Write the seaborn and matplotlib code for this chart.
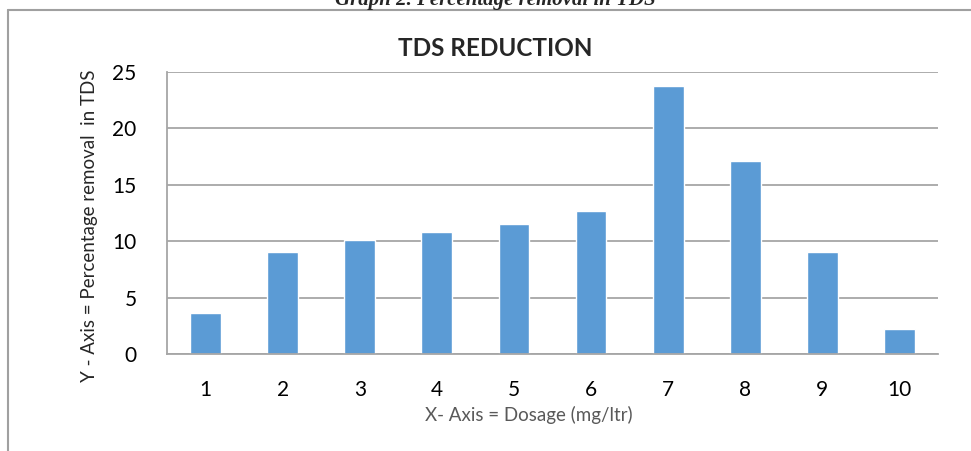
import matplotlib
matplotlib.use("Agg")
import matplotlib.pyplot as plt
import seaborn as sns
from matplotlib.lines import Line2D

# dane
dosage = ['1', '2', '3', '4', '5', '6', '7', '8', '9', '10']
removal = [3.64, 9.0, 10.1, 10.8, 11.5, 12.7, 23.75, 17.15, 9.0, 2.25]
y_ticks = [0, 5, 10, 15, 20, 25]

sns.set_style('white')
plt.rcParams['font.family'] = ['Lato', 'DejaVu Sans']

fig = plt.figure(figsize=(9.71, 4.51), dpi=100)
ax = fig.add_axes([167/971, 1-354/451, (938-167)/971, (354-72)/451])

sns.barplot(x=dosage, y=removal, color='#5B9BD5', width=0.4, saturation=1, ax=ax)

ax.set_ylim(0, 25)
ax.set_yticks(y_ticks)
ax.yaxis.grid(True, color='#A6A6A6', linewidth=1.3)
ax.set_axisbelow(True)
for s in ['top', 'right']:
    ax.spines[s].set_visible(False)
for s in ['left', 'bottom']:
    ax.spines[s].set_color('#A6A6A6')
    ax.spines[s].set_linewidth(1.3)
ax.tick_params(axis='both', length=0, labelsize=15, labelcolor='black')
ax.tick_params(axis='y', pad=22)
ax.tick_params(axis='x', pad=19)
ax.set_xlabel('')
ax.set_ylabel('')

# tytuły i opisy osi
fig.text(495/971, 1-48/451, 'TDS REDUCTION', ha='center', va='center',
         fontsize=17.5, fontweight='bold')
fig.text(529/971, 1-415/451, 'X- Axis = Dosage (mg/ltr)', ha='center', va='center',
         fontsize=13.5, color='#595959')
fig.text(89/971, 1-226/451, 'Y - Axis = Percentage removal  in TDS', ha='center',
         va='center', rotation=90, fontsize=13.5)

# obcięty podpis nad ramką
fig.text(495/971, 1-5/451, 'Graph 2. Percentage removal in TDS', ha='center',
         va='baseline', fontsize=15, fontweight='bold', style='italic',
         family='Liberation Serif')

# ramka wokół wykresu
fig.add_artist(Line2D([8/971, 1.0], [1-9.5/451, 1-9.5/451], color='#A0A0A0',
                      linewidth=1.5, transform=fig.transFigure))
fig.add_artist(Line2D([8/971, 8/971], [0, 1-9.5/451], color='#A0A0A0',
                      linewidth=1.5, transform=fig.transFigure))

fig.savefig('out.png', dpi=100)
